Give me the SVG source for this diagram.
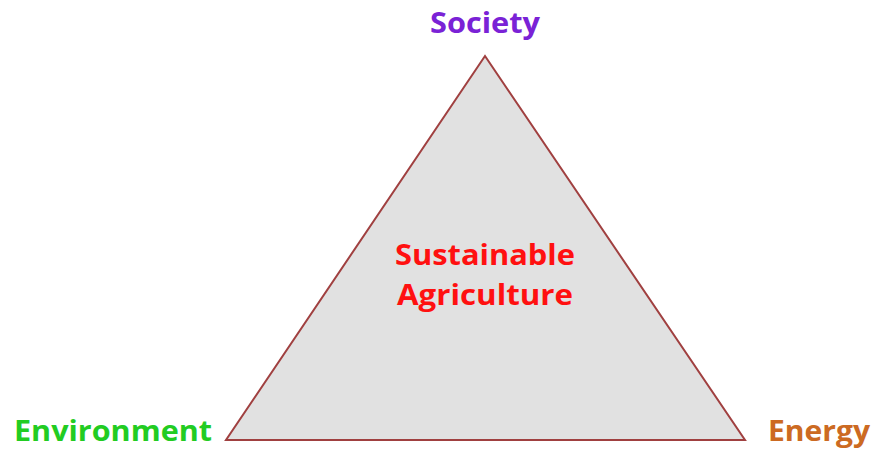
<svg xmlns="http://www.w3.org/2000/svg" width="873" height="450" viewBox="0 0 873 450">
<style>
.t{font-family:"Open Sans","Liberation Sans",sans-serif;font-weight:bold;font-size:29px}
</style>
<rect width="873" height="450" fill="#ffffff"/>
<g id="triangle">
<polygon points="485,56 226,440 745,440" fill="#E1E1E1" stroke="#A04040" stroke-width="2"/>
<text class="t" x="485" y="265" text-anchor="middle" fill="#FF1010" textLength="180" lengthAdjust="spacingAndGlyphs">Sustainable</text>
<text class="t" x="485" y="305" text-anchor="middle" fill="#FF1010" textLength="176" lengthAdjust="spacingAndGlyphs">Agriculture</text>
</g>
<g id="society">
<text class="t" x="485" y="33" text-anchor="middle" fill="#7A22D6" textLength="110" lengthAdjust="spacingAndGlyphs">Society</text>
</g>
<g id="environment">
<text class="t" x="14" y="441" fill="#22CC22" textLength="198" lengthAdjust="spacingAndGlyphs">Environment</text>
</g>
<g id="energy">
<text class="t" x="768" y="441" fill="#CC6A22" textLength="102" lengthAdjust="spacingAndGlyphs">Energy</text>
</g>
<g id="connectors"></g>
</svg>
